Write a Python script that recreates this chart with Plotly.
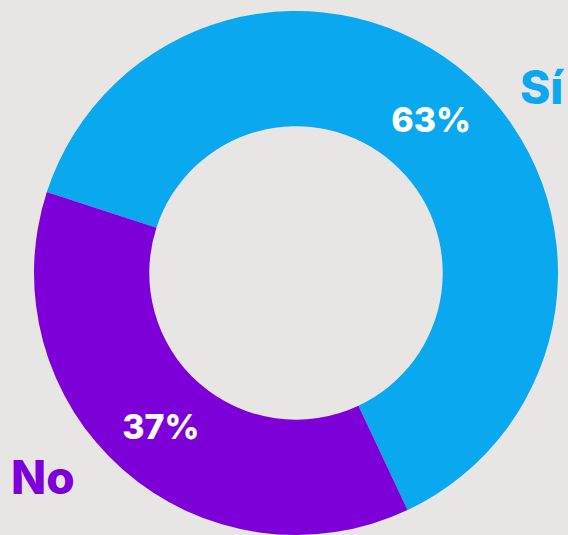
import plotly.graph_objects as go

categories = ["Sí", "No"]
values = [63, 37]
colors = ["#0aa8ee", "#7d00d8"]

W, H = 568, 535

fig = go.Figure(go.Pie(
    labels=categories,
    values=values,
    sort=False,
    direction="clockwise",
    rotation=288,
    hole=0.56,
    marker=dict(colors=colors, line=dict(width=0)),
    textinfo="percent",
    texttemplate="%{percent:.0%}",
    textposition="inside",
    insidetextorientation="horizontal",
    textfont=dict(family="Inter", size=34, color="white", weight=800),
    domain=dict(x=[33 / W, 559 / W], y=[0, 524 / H]),
    showlegend=False,
    hoverinfo="label+percent",
))

label_pos = [(542, 87), (43, 477)]
for cat, col, (px, py) in zip(categories, colors, label_pos):
    fig.add_annotation(
        x=px / W, y=1 - py / H, xref="paper", yref="paper",
        text=cat, showarrow=False, xanchor="center", yanchor="middle",
        font=dict(family="Inter", size=46, color=col, weight=800),
    )

fig.update_layout(
    width=W, height=H,
    margin=dict(l=0, r=0, t=0, b=0),
    paper_bgcolor="#e8e6e4",
    plot_bgcolor="#e8e6e4",
)

fig.write_html(
    "out.html",
    config={"displayModeBar": False},
    post_script="document.body.style.margin='0';document.body.style.overflow='hidden';document.body.style.background='#e8e6e4';",
)
